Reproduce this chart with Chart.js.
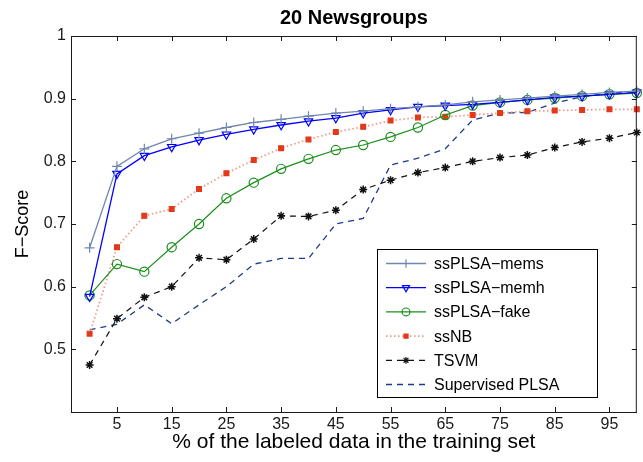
<!DOCTYPE html>
<html><head><meta charset="utf-8">
<script src="https://cdn.jsdelivr.net/npm/chart.js@4.4.1/dist/chart.umd.min.js"></script>
<style>html,body{margin:0;padding:0;background:#fff}#wrap{width:643px;height:462px}</style>
</head><body><div id="wrap"><canvas id="c" width="643" height="462"></canvas></div>
<script>
// ---- data ----
const xValues = [0,5,10,15,20,25,30,35,40,45,50,55,60,65,70,75,80,85,90,95,100];
const xTickValues = [5,15,25,35,45,55,65,75,85,95];
const yTickValues = [0.4,0.5,0.6,0.7,0.8,0.9,1];
const seriesNames = ['ssPLSA\u2212mems','ssPLSA\u2212memh','ssPLSA\u2212fake','ssNB','TSVM','Supervised PLSA'];
const ssPLSAmems = [0.662,0.792,0.820,0.836,0.845,0.854,0.862,0.867,0.872,0.877,0.880,0.884,0.887,0.890,0.895,0.898,0.901,0.904,0.907,0.910,0.912];
const ssPLSAmemh = [0.584,0.780,0.809,0.823,0.834,0.843,0.851,0.858,0.864,0.869,0.877,0.882,0.887,0.889,0.891,0.894,0.898,0.902,0.904,0.907,0.910];
const ssPLSAfake = [0.586,0.636,0.624,0.663,0.700,0.741,0.766,0.788,0.804,0.818,0.826,0.839,0.854,0.874,0.889,0.894,0.898,0.901,0.904,0.907,0.909];
const ssNB       = [0.525,0.663,0.713,0.724,0.756,0.781,0.802,0.821,0.835,0.847,0.855,0.865,0.870,0.871,0.874,0.877,0.880,0.881,0.882,0.883,0.883];
const TSVM       = [0.475,0.549,0.583,0.600,0.646,0.643,0.676,0.713,0.712,0.722,0.755,0.770,0.782,0.790,0.800,0.806,0.810,0.822,0.831,0.837,0.846];
const supPLSA    = [0.531,0.540,0.571,0.541,0.571,0.600,0.636,0.645,0.645,0.700,0.709,0.794,0.805,0.820,0.866,0.877,0.878,0.893,0.903,0.909,0.911];
const chartTitle = '20 Newsgroups';
const xTitle = '% of the labeled data in the training set';
const yTitle = 'F\u2212Score';

const FONT = "'Liberation Sans', Arial, Helvetica, sans-serif";
const TXT = '#1a1a1a';
const pts = arr => arr.map((v,i)=>({x:xValues[i], y:v}));

const styles = [
  {color:'#6f86ad', pointStyle:'cross', radius:5, fill:'rgba(0,0,0,0)', dash:[], pointColor:'#6f86ad', lineWidth:1.3},
  {color:'#0000ff', pointStyle:'triangle', rotation:180, radius:4.8, fill:'rgba(0,0,0,0)', dash:[], pointColor:'#0000ff', lineWidth:1.3},
  {color:'#1a8f1a', pointStyle:'circle', radius:4.6, fill:'rgba(0,0,0,0)', dash:[], pointColor:'#1a8f1a', lineWidth:1.2},
  {color:'#f39a86', pointStyle:'rect', radius:3.4, fill:'#e3391b', dash:[1.5,2.5], pointColor:'#e3391b', lineWidth:1.8},
  {color:'#111111', pointStyle:'star', radius:4, fill:'#111111', dash:[6,5], pointColor:'#111111', lineWidth:1.2},
  {color:'#1f3b85', pointStyle:false, radius:0, fill:'#1f3b85', dash:[6,5], pointColor:'#1f3b85', lineWidth:1.3}
];
const seriesData = [ssPLSAmems, ssPLSAmemh, ssPLSAfake, ssNB, TSVM, supPLSA];

const datasets = seriesData.map((d,i)=>{
  const s = styles[i];
  return {
    label: seriesNames[i],
    data: pts(d),
    borderColor: s.color,
    borderWidth: s.lineWidth,
    borderDash: s.dash,
    backgroundColor: s.fill,
    pointStyle: s.pointStyle,
    pointRadius: s.radius,
    pointRotation: s.rotation || 0,
    pointBorderColor: s.pointColor,
    pointBackgroundColor: s.fill,
    pointBorderWidth: i === 4 ? 1.5 : 1.2,
    tension: 0,
    fill: false,
    clip: false
  };
});

const framePlugin = {
  id: 'frame',
  afterDraw(chart) {
    const {ctx, chartArea: a, scales} = chart;
    ctx.save();
    ctx.strokeStyle = '#1a1a1a';
    ctx.lineWidth = 1;
    ctx.setLineDash([]);
    // box
    ctx.beginPath();
    ctx.moveTo(a.left, a.top + 0.5); ctx.lineTo(a.right, a.top + 0.5);
    ctx.moveTo(a.right - 0.5, a.top); ctx.lineTo(a.right - 0.5, a.bottom);
    ctx.stroke();
    // inward ticks
    const L = 5;
    ctx.beginPath();
    xTickValues.forEach(v => {
      const x = Math.round(scales.x.getPixelForValue(v)) + 0.5;
      ctx.moveTo(x, a.bottom); ctx.lineTo(x, a.bottom - L);
      ctx.moveTo(x, a.top); ctx.lineTo(x, a.top + L);
    });
    yTickValues.forEach(v => {
      const y = Math.round(scales.y.getPixelForValue(v)) + 0.5;
      ctx.moveTo(a.left, y); ctx.lineTo(a.left + L, y);
      ctx.moveTo(a.right, y); ctx.lineTo(a.right - L, y);
    });
    ctx.stroke();

    // title
    ctx.fillStyle = '#000';
    ctx.font = "bold 20px " + FONT;
    ctx.textAlign = 'center';
    ctx.textBaseline = 'middle';
    ctx.fillText(chartTitle, (a.left + a.right) / 2, 18);

    // legend box
    const bx = 377, by = 249, bw = 220, bh = 148;
    ctx.fillStyle = '#fff';
    ctx.fillRect(bx, by, bw, bh);
    ctx.strokeStyle = '#000';
    ctx.lineWidth = 1;
    ctx.strokeRect(bx + 0.5, by + 0.5, bw, bh);
    ctx.font = "16px " + FONT;
    ctx.textAlign = 'left';
    ctx.textBaseline = 'middle';
    seriesNames.forEach((name, i) => {
      const s = styles[i];
      const y = 263.5 + i * 24.2;
      ctx.save();
      ctx.strokeStyle = s.color;
      ctx.lineWidth = s.lineWidth;
      ctx.setLineDash(s.dash);
      ctx.beginPath();
      ctx.moveTo(386, y); ctx.lineTo(426, y);
      ctx.stroke();
      ctx.setLineDash([]);
      if (s.pointStyle) {
        ctx.strokeStyle = s.pointColor;
        ctx.fillStyle = s.fill;
        ctx.lineWidth = 1.2;
        Chart.helpers.drawPoint(ctx, {pointStyle: s.pointStyle, radius: s.radius * 0.85, rotation: s.rotation || 0, borderWidth: 1.2}, 406, y);
      }
      ctx.restore();
      ctx.fillStyle = '#000';
      ctx.fillText(name, 434, y + 1);
    });
    ctx.restore();
  }
};

new Chart(document.getElementById('c'), {
  type: 'line',
  data: { datasets },
  options: {
    responsive: false,
    animation: false,
    devicePixelRatio: 1,
    layout: { padding: { top: 36, right: 6, left: 0, bottom: 0 } },
    plugins: { legend: { display: false }, title: { display: false }, tooltip: { enabled: false } },
    scales: {
      x: {
        type: 'linear', min: -3.4, max: 100,
        afterBuildTicks: s => { s.ticks = xTickValues.map(v => ({value: v})); },
        afterFit: s => { s.height = 50; },
        grid: { display: false, drawTicks: false },
        border: { display: true, color: '#1a1a1a', width: 1 },
        ticks: { color: TXT, font: { family: FONT, size: 16 }, padding: 3, maxRotation: 0, autoSkip: false },
        title: { display: true, text: xTitle, color: '#000', font: { family: FONT, size: 21 }, padding: { top: 0, bottom: 7 } }
      },
      y: {
        type: 'linear', min: 0.4, max: 1,
        afterBuildTicks: s => { s.ticks = yTickValues.map(v => ({value: v})); },
        afterFit: s => { s.width = 71; },
        grid: { display: false, drawTicks: false },
        border: { display: true, color: '#1a1a1a', width: 1 },
        ticks: { color: TXT, font: { family: FONT, size: 16 }, padding: 5,
          callback: v => (Math.abs(v - 0.4) < 1e-9 ? '' : String(Math.round(v * 10) / 10)) },
        title: { display: true, text: yTitle, color: '#000', font: { family: FONT, size: 18 }, padding: { top: 12, bottom: 0 } }
      }
    }
  },
  plugins: [framePlugin]
});
</script>
</body></html>
